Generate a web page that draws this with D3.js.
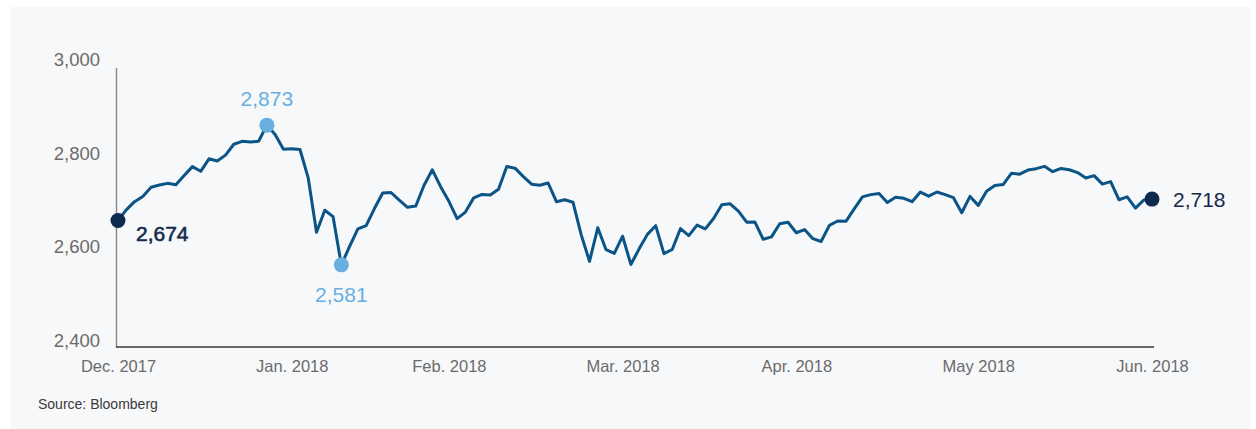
<!DOCTYPE html>
<html>
<head>
<meta charset="utf-8">
<script src="https://cdn.jsdelivr.net/npm/d3@7"></script>
<style>
  body { margin: 0; background: #fff; }
  svg text { font-family: "Liberation Sans", Arial, sans-serif; }
</style>
</head>
<body>
<svg width="1256" height="429"></svg>
<script>
// S&P 500 daily closes, Dec 29 2017 .. Jun 29 2018 (one per trading day)
const closes = [
  2673.61,
  2695.81, 2713.06, 2723.99, 2743.15, 2747.71, 2751.29, 2748.23, 2767.56, 2786.24, 2776.42,
  2802.56, 2798.03, 2810.30, 2832.97, 2839.13, 2837.54, 2839.25, 2872.87, 2853.53, 2822.43, 2823.81,
  2821.98, 2762.13, 2648.94, 2695.14, 2681.66, 2581.00, 2619.55, 2656.00, 2662.94, 2698.63,
  2731.20, 2732.22, 2716.26, 2701.33, 2703.96, 2747.30, 2779.60, 2744.28, 2713.83,
  2677.67, 2691.25, 2720.94, 2728.12, 2726.80, 2738.97, 2786.57, 2783.02, 2765.31, 2749.48,
  2747.33, 2752.01, 2712.92, 2716.94, 2711.93, 2643.69, 2588.26, 2658.55, 2612.62, 2605.00, 2640.87,
  2581.88, 2614.45, 2644.69, 2662.84, 2604.47, 2613.16, 2656.87, 2642.19, 2663.99, 2656.30,
  2677.84, 2706.39, 2708.64, 2693.13, 2670.14, 2670.29, 2634.56, 2639.40, 2666.94, 2669.91, 2648.05,
  2654.80, 2635.67, 2629.73, 2663.42, 2672.63, 2671.92, 2697.79, 2723.07, 2727.72, 2730.13, 2711.45,
  2722.46, 2720.13, 2712.97, 2733.01, 2724.44, 2733.29, 2727.76, 2721.33, 2689.86, 2724.01, 2705.27,
  2734.62, 2746.87, 2748.80, 2772.35, 2770.37, 2779.03, 2782.00, 2786.85, 2775.63, 2782.49,
  2779.66, 2773.75, 2762.59, 2767.32, 2749.76, 2754.88, 2717.07, 2723.06, 2699.63, 2716.31, 2718.37
];

const monthLabels = ["Dec. 2017", "Jan. 2018", "Feb. 2018", "Mar. 2018", "Apr. 2018", "May 2018", "Jun. 2018"];
const monthIdx = [0, 21, 40, 61, 82, 104, 125];   // last trading day of each month
const yTicks = [2400, 2600, 2800, 3000];
const extremeIdx = [18, 27];                       // high and low
const endIdx = [0, closes.length - 1];             // first and last close

const svg = d3.select("svg");
const fmt = d3.format(",.0f");

svg.append("rect")
  .attr("x", 11).attr("y", 7)
  .attr("width", 1240).attr("height", 422)
  .attr("fill", "#f7f8fa");

const x = d3.scaleLinear().domain([0, closes.length - 1]).range([118, 1152]);
const y = d3.scaleLinear().domain([2400, 3000]).range([351.5, 64.3]);
const yLabel = d3.scaleLinear().domain([2400, 3000]).range([340.5, 60]);

// axis lines
svg.append("line")
  .attr("x1", 116.5).attr("x2", 116.5)
  .attr("y1", 68).attr("y2", 347)
  .attr("stroke", "#8a8a8a").attr("stroke-width", 1.5);
svg.append("line")
  .attr("x1", 116).attr("x2", 1154)
  .attr("y1", 347).attr("y2", 347)
  .attr("stroke", "#3a3a3a").attr("stroke-width", 1.5);

// y tick labels
const yAxis = svg.append("g")
  .attr("transform", "translate(100,0)")
  .call(d3.axisLeft(yLabel).tickValues(yTicks).tickFormat(d3.format(",")).tickSize(0).tickPadding(0));
yAxis.select(".domain").remove();
yAxis.selectAll("text")
  .attr("fill", "#6b6b6b")
  .attr("font-size", "18.5px")
  .style("font-family", "'Liberation Sans', Arial, sans-serif");

// month labels
const xAxis = svg.append("g")
  .attr("transform", "translate(0,360)")
  .call(d3.axisBottom(x).tickValues(monthIdx).tickFormat((d, i) => monthLabels[i]).tickSize(0).tickPadding(0));
xAxis.select(".domain").remove();
xAxis.selectAll("text")
  .attr("fill", "#6b6b6b")
  .attr("font-size", "16.5px")
  .style("font-family", "'Liberation Sans', Arial, sans-serif");

// line
const line = d3.line()
  .x((d, i) => x(i))
  .y((d) => y(d));

svg.append("path")
  .datum(closes)
  .attr("fill", "none")
  .attr("stroke", "#0b5486")
  .attr("stroke-width", 3)
  .attr("stroke-linejoin", "round")
  .attr("d", line);

// high / low markers
svg.selectAll("circle.ext")
  .data(extremeIdx)
  .enter()
  .append("circle")
  .attr("class", "ext")
  .attr("cx", (i) => x(i))
  .attr("cy", (i) => y(closes[i]))
  .attr("r", 7.5)
  .attr("fill", "#67afe1");

svg.selectAll("text.ext")
  .data(extremeIdx)
  .enter()
  .append("text")
  .attr("class", "ext")
  .attr("x", (i) => x(i))
  .attr("y", (i, k) => y(closes[i]) + (k === 0 ? -19 : 37))
  .attr("text-anchor", "middle")
  .attr("fill", "#67afe1")
  .attr("font-size", "21px")
  .text((i) => fmt(closes[i]));

// first / last markers
svg.selectAll("circle.end")
  .data(endIdx)
  .enter()
  .append("circle")
  .attr("class", "end")
  .attr("cx", (i) => x(i))
  .attr("cy", (i) => y(closes[i]))
  .attr("r", 7.5)
  .attr("fill", "#0d2a4e");

svg.selectAll("text.end")
  .data(endIdx)
  .enter()
  .append("text")
  .attr("class", "end")
  .attr("x", (i, k) => x(i) + (k === 0 ? 18 : 21))
  .attr("y", (i, k) => y(closes[i]) + (k === 0 ? 20 : 7.5))
  .attr("fill", "#14294b")
  .attr("font-size", "21px")
  .attr("stroke", (i, k) => (k === 0 ? "#14294b" : "none"))
  .attr("stroke-width", 0.6)
  .text((i) => fmt(closes[i]));

svg.append("text")
  .attr("x", 38)
  .attr("y", 409)
  .attr("fill", "#3a3a3a")
  .attr("font-size", "14px")
  .text("Source: Bloomberg");
</script>
</body>
</html>
